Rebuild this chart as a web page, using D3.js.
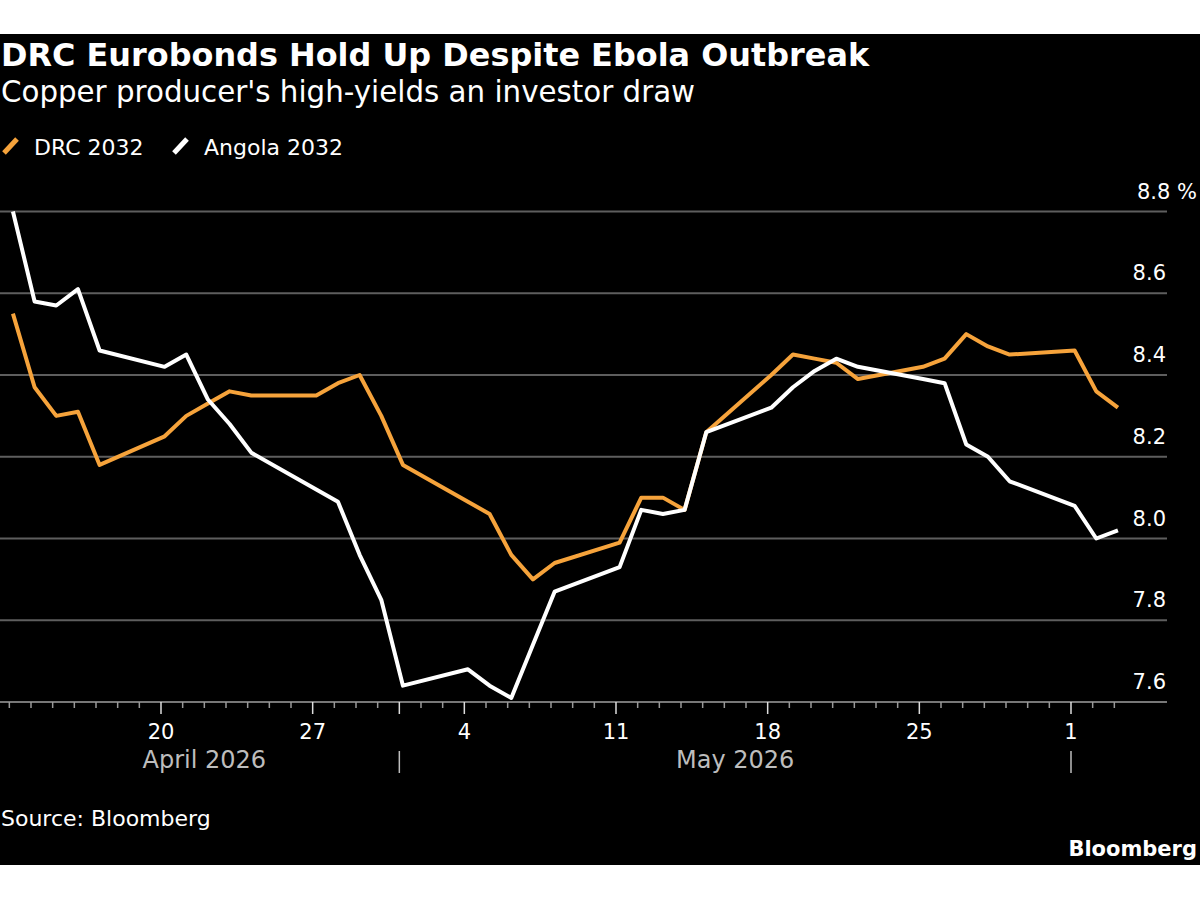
<!DOCTYPE html>
<html lang="en">
<head>
<meta charset="UTF-8">
<title>DRC Eurobonds Hold Up Despite Ebola Outbreak</title>
<style>
  html, body { margin: 0; padding: 0; background: #fff; }
  svg { display: block; }
  text { font-family: "DejaVu Sans", sans-serif; fill: #fff; }
</style>
</head>
<body>
<script src="https://cdn.jsdelivr.net/npm/d3@7"></script>
<script>
// trading days and yields (%)
const dates = [
  "2026-04-13", "2026-04-14", "2026-04-15", "2026-04-16", "2026-04-17",
  "2026-04-20", "2026-04-21", "2026-04-22", "2026-04-23", "2026-04-24",
  "2026-04-27", "2026-04-28", "2026-04-29", "2026-04-30", "2026-05-01",
  "2026-05-04", "2026-05-05", "2026-05-06", "2026-05-07", "2026-05-08",
  "2026-05-11", "2026-05-12", "2026-05-13", "2026-05-14", "2026-05-15",
  "2026-05-18", "2026-05-19", "2026-05-20", "2026-05-21", "2026-05-22",
  "2026-05-25", "2026-05-26", "2026-05-27", "2026-05-28", "2026-05-29",
  "2026-06-01", "2026-06-02", "2026-06-03"
];
const drc2032 = [
  8.55, 8.37, 8.30, 8.31, 8.18,
  8.25, 8.30, 8.33, 8.36, 8.35,
  8.35, 8.38, 8.40, 8.30, 8.18,
  8.09, 8.06, 7.96, 7.90, 7.94,
  7.99, 8.10, 8.10, 8.07, 8.26,
  8.40, 8.45, 8.44, 8.43, 8.39,
  8.42, 8.44, 8.50, 8.47, 8.45,
  8.46, 8.36, 8.32
];
const angola2032 = [
  8.80, 8.58, 8.57, 8.61, 8.46,
  8.42, 8.45, 8.34, 8.28, 8.21,
  8.12, 8.09, 7.96, 7.85, 7.64,
  7.68, 7.64, 7.61, 7.74, 7.87,
  7.93, 8.07, 8.06, 8.07, 8.26,
  8.32, 8.37, 8.41, 8.44, 8.42,
  8.39, 8.38, 8.23, 8.20, 8.14,
  8.08, 8.00, 8.02
];
const seriesNames = ["DRC 2032", "Angola 2032"];
const seriesColors = ["#f6a33b", "#ffffff"];
const yTicks = [7.6, 7.8, 8.0, 8.2, 8.4, 8.6, 8.8];
const labelDays = ["2026-04-20", "2026-04-27", "2026-05-04", "2026-05-11", "2026-05-18", "2026-05-25", "2026-06-01"];
const monthNames = ["April 2026", "May 2026"];
const monthStarts = ["2026-04-13", "2026-05-01", "2026-06-01"];

const W = 1200, H = 900;
const parse = d3.utcParse("%Y-%m-%d");
const days = dates.map(parse);

const svg = d3.select("body").append("svg")
  .attr("width", W).attr("height", H);

svg.append("rect")
  .attr("x", 0).attr("y", 34)
  .attr("width", W).attr("height", 831)
  .attr("fill", "#000");

const x = d3.scaleUtc()
  .domain([parse("2026-04-13"), parse("2026-06-03")])
  .range([9.33, 1114.33]);
const y = d3.scaleLinear()
  .domain([7.6, 8.8])
  .range([702, 211.5]);

// closing prints sit a few hours after midnight of the tick
const px = d => x(d3.utcHour.offset(d, 4));

// titles
svg.append("text")
  .attr("x", 1).attr("y", 66)
  .style("font-weight", "bold").style("font-size", "31.9px")
  .text("DRC Eurobonds Hold Up Despite Ebola Outbreak");
svg.append("text")
  .attr("x", 1).attr("y", 102)
  .style("font-size", "29.3px")
  .text("Copper producer's high-yields an investor draw");

// legend
const legendX = [3, 173];
const leg = svg.selectAll("g.leg").data(seriesNames).enter()
  .append("g").attr("class", "leg")
  .attr("transform", (d, i) => `translate(${legendX[i]},0)`);
leg.append("line")
  .attr("x1", 1).attr("y1", 153).attr("x2", 14).attr("y2", 139)
  .attr("stroke", (d, i) => seriesColors[i])
  .attr("stroke-width", 5);
leg.append("text")
  .attr("x", 31).attr("y", 155)
  .style("font-size", "22px")
  .text(d => d);

// grid
svg.selectAll("line.grid").data(yTicks).enter()
  .append("line").attr("class", "grid")
  .attr("x1", 0).attr("x2", 1167)
  .attr("y1", d => y(d)).attr("y2", d => y(d))
  .attr("stroke", d => d === 7.6 ? "#777" : "#5e5e5e")
  .attr("stroke-width", 2);

svg.selectAll("text.ylab").data(yTicks).enter()
  .append("text").attr("class", "ylab")
  .attr("x", d => d === 8.8 ? 1197 : 1166)
  .attr("y", d => y(d) - 13)
  .attr("text-anchor", "end")
  .style("font-size", "21px")
  .text(d => d === 8.8 ? d.toFixed(1) + " %" : d.toFixed(1));

// x ticks
const allDays = d3.utcDay.range(parse("2026-04-13"), d3.utcDay.offset(parse("2026-06-03"), 1));
const majors = new Set(labelDays.concat(monthStarts.slice(1)));
const fmt = d3.utcFormat("%Y-%m-%d");
svg.selectAll("line.tick").data(allDays).enter()
  .append("line").attr("class", "tick")
  .attr("x1", d => x(d)).attr("x2", d => x(d))
  .attr("y1", 702)
  .attr("y2", d => majors.has(fmt(d)) ? 714 : 708)
  .attr("stroke", d => majors.has(fmt(d)) ? "#ddd" : "#999")
  .attr("stroke-width", 1.5);

svg.selectAll("text.xlab").data(labelDays.map(parse)).enter()
  .append("text").attr("class", "xlab")
  .attr("x", d => x(d)).attr("y", 739)
  .attr("text-anchor", "middle")
  .style("font-size", "21px")
  .text(d3.utcFormat("%-d"));

// month labels and separators
const ms = monthStarts.map(parse);
svg.selectAll("text.month").data(monthNames).enter()
  .append("text").attr("class", "month")
  .attr("x", (d, i) => (Math.max(0, x(ms[i])) + x(ms[i + 1])) / 2)
  .attr("y", 768)
  .attr("text-anchor", "middle")
  .style("font-size", "24px")
  .style("fill", "#bdbdbd")
  .text(d => d);
svg.selectAll("line.msep").data(ms.slice(1)).enter()
  .append("line").attr("class", "msep")
  .attr("x1", d => x(d)).attr("x2", d => x(d))
  .attr("y1", 751).attr("y2", 773)
  .attr("stroke", "#bdbdbd").attr("stroke-width", 1.5);

// lines
const line = d3.line()
  .x((v, i) => px(days[i]))
  .y(v => y(v));
svg.selectAll("path.series").data([drc2032, angola2032]).enter()
  .append("path").attr("class", "series")
  .attr("d", line)
  .attr("fill", "none")
  .attr("stroke", (d, i) => seriesColors[i])
  .attr("stroke-width", 4)
  .attr("stroke-linejoin", "round");

// footer
svg.append("text")
  .attr("x", 1).attr("y", 826)
  .style("font-size", "22px")
  .text("Source: Bloomberg");
svg.append("text")
  .attr("x", 1197).attr("y", 856)
  .attr("text-anchor", "end")
  .style("font-weight", "bold").style("font-size", "21px")
  .text("Bloomberg");
</script>
</body>
</html>
